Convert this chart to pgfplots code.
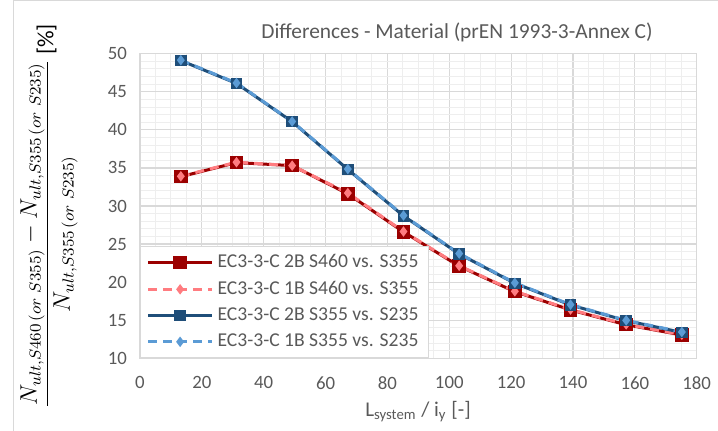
\documentclass[border=0pt]{standalone}
\usepackage{pgfplots}
\pgfplotsset{compat=1.18}
\usepackage{fontspec}
\setmainfont{Carlito}
\definecolor{dred}{HTML}{9B0000}
\definecolor{lred}{HTML}{FF7C80}
\definecolor{dblue}{HTML}{1F4E79}
\definecolor{lblue}{HTML}{5B9BD5}
\definecolor{txt}{HTML}{595959}
\definecolor{gmaj}{HTML}{D9D9D9}
\definecolor{gmin}{HTML}{EEEEEE}

\begin{document}
\begin{tikzpicture}
\useasboundingbox (-70pt,-36.35pt) rectangle (289pt,179.15pt);
\draw[gmaj, line width=0.5pt] (-63pt,-36.35pt) -- (-63pt,178.65pt) -- (289pt,178.65pt);
\begin{axis}[
  at={(0,0)}, anchor=south west,
  scale only axis,
  width=278.35pt, height=152.3pt,
  xmin=0, xmax=180, ymin=10, ymax=50,
  xtick distance=20, ytick distance=5,
  minor x tick num=3, minor y tick num=4,
  grid=both,
  major grid style={gmaj, line width=0.6pt},
  minor grid style={gmin, line width=0.5pt},
  axis line style={gmaj, line width=0.6pt},
  major tick length=0pt, minor tick length=0pt,
  /pgf/number format/assume math mode=true,
  tick label style={font=\fontsize{9.4}{11}\selectfont, color=txt},
  yticklabel style={xshift=-3pt},
  xticklabel style={yshift=-5.5pt},
  legend cell align=left,
  legend style={at={(0,0)}, anchor=south west, draw=gmaj, line width=0.6pt,
    fill=white, font=\fontsize{9.8}{11}\selectfont, text=txt,
    row sep=1.2pt, inner xsep=3pt, inner ysep=2pt},
  legend image code/.code={
    \draw[mark repeat=2, mark phase=2, #1] plot coordinates {(0pt,0pt) (16pt,0pt) (32pt,0pt)};
  },
]
\addplot[dred, line width=1.5pt, mark=square*, mark size=2.6pt, mark options={solid}] coordinates {
  (13.2,33.85) (31.2,35.7) (49.2,35.3) (67.2,31.6) (85.2,26.6)
  (103.2,22.1) (121.2,18.75) (139.2,16.35) (157.2,14.4) (175.2,13.06)
};
\addlegendentry{EC3-3-C 2B S460 vs. S355}
\addplot[lred, line width=1.5pt, dash pattern=on 4.5pt off 3pt, mark=diamond*, mark size=1.4pt, mark options={solid}] coordinates {
  (13.2,33.9) (31.2,35.75) (49.2,35.3) (67.2,31.7) (85.2,26.65)
  (103.2,22.15) (121.2,18.8) (139.2,16.4) (157.2,14.45) (175.2,13.1)
};
\addlegendentry{EC3-3-C 1B S460 vs. S355}
\addplot[dblue, line width=1.5pt, mark=square*, mark size=2.1pt, mark options={solid}] coordinates {
  (13.2,49.1) (31.2,46.1) (49.2,41.07) (67.2,34.8) (85.2,28.7)
  (103.2,23.7) (121.2,19.85) (139.2,17.0) (157.2,14.94) (175.2,13.4)
};
\addlegendentry{EC3-3-C 2B S355 vs. S235}
\addplot[lblue, line width=1.5pt, dash pattern=on 4.5pt off 3pt, mark=diamond*, mark size=1.4pt, mark options={solid}] coordinates {
  (13.2,49.15) (31.2,46.15) (49.2,41.1) (67.2,34.85) (85.2,28.75)
  (103.2,23.75) (121.2,19.9) (139.2,17.05) (157.2,14.98) (175.2,13.45)
};
\addlegendentry{EC3-3-C 1B S355 vs. S235}
\end{axis}
\node[text=txt, font=\fontsize{10.7}{12}\selectfont] at (158.5pt,163.15pt) {Differences - Material (prEN 1993-3-Annex C)};
\node[text=txt, font=\fontsize{10.5}{12}\selectfont] at (139pt,-26.5pt) {L\textsubscript{system} / i\textsubscript{y} [-]};
\node[rotate=90, font=\fontsize{11.6}{13}\selectfont] at (-45.5pt,71.15pt)
  {$\displaystyle\frac{N_{ult,S460\,(or\ S355)}-N_{ult,S355\,(or\ S235)}}{N_{ult,S355\,(or\ S235)}}$ [\%]};
\end{tikzpicture}
\end{document}
